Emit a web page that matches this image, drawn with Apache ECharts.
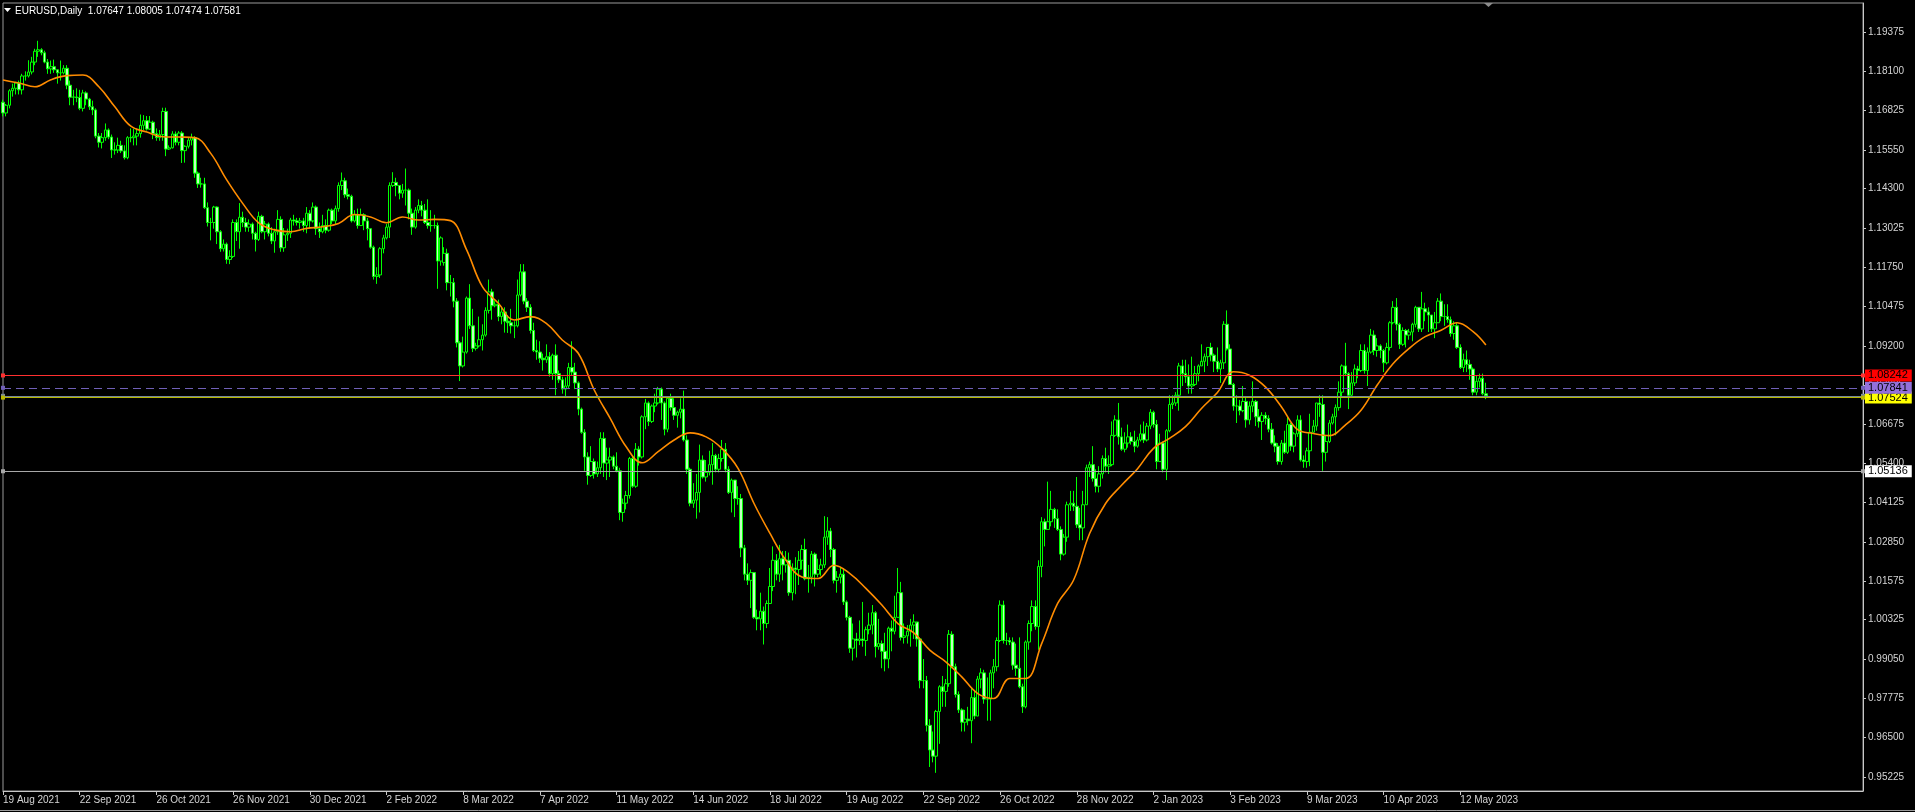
<!DOCTYPE html>
<html>
<head>
<meta charset="utf-8">
<title>EURUSD,Daily</title>
<script src="https://cdn.jsdelivr.net/npm/echarts@6/dist/echarts.min.js"></script>
<style>
  html, body { margin: 0; padding: 0; background: #000; }
  #chart { width: 1915px; height: 812px; }
</style>
</head>
<body>
<div id="chart"></div>
<script>
const symbolName = 'EURUSD,Daily';
const lastQuote = [1.07647, 1.08005, 1.07474, 1.07581];

// bottom scale labels, one every 24 bars
const dateLabels = ['19 Aug 2021', '22 Sep 2021', '26 Oct 2021', '26 Nov 2021', '30 Dec 2021', '2 Feb 2022',
  '8 Mar 2022', '7 Apr 2022', '11 May 2022', '14 Jun 2022', '18 Jul 2022', '19 Aug 2022', '22 Sep 2022',
  '26 Oct 2022', '28 Nov 2022', '2 Jan 2023', '3 Feb 2023', '9 Mar 2023', '10 Apr 2023', '12 May 2023'];
const labelStep = 24;
const emptySlots = 118;

const priceTicks = [0.95225, 0.96500, 0.97775, 0.99050, 1.00325, 1.01575, 1.02850, 1.04125, 1.05400, 1.06675,
  1.07935, 1.09200, 1.10475, 1.11750, 1.13025, 1.14300, 1.15550, 1.16825, 1.18100, 1.19375];

// daily bars: [open, close, low, high]
const bars = [
  [1.1710,1.1675,1.1664,1.1718],[1.1675,1.1700,1.1664,1.1704],[1.1700,1.1747,1.1690,1.1752],[1.1747,1.1755,1.1728,1.1770],[1.1755,1.1772,1.1735,1.1776],
  [1.1772,1.1750,1.1735,1.1780],[1.1750,1.1795,1.1735,1.1802],[1.1795,1.1795,1.1780,1.1810],[1.1795,1.1808,1.1790,1.1846],[1.1808,1.1840,1.1800,1.1857],
  [1.1840,1.1875,1.1830,1.1883],[1.1875,1.1880,1.1857,1.1909],[1.1880,1.1870,1.1862,1.1885],[1.1870,1.1840,1.1836,1.1877],[1.1840,1.1818,1.1802,1.1850],
  [1.1818,1.1825,1.1802,1.1845],[1.1825,1.1815,1.1805,1.1848],[1.1815,1.1805,1.1770,1.1815],[1.1805,1.1805,1.1780,1.1845],[1.1805,1.1820,1.1800,1.1830],
  [1.1820,1.1765,1.1752,1.1830],[1.1765,1.1726,1.1700,1.1780],[1.1726,1.1727,1.1700,1.1750],[1.1727,1.1725,1.1710,1.1755],[1.1725,1.1690,1.1684,1.1750],
  [1.1690,1.1740,1.1680,1.1750],[1.1740,1.1720,1.1700,1.1745],[1.1720,1.1695,1.1685,1.1724],[1.1695,1.1685,1.1668,1.1715],[1.1685,1.1600,1.1593,1.1690],
  [1.1600,1.1580,1.1563,1.1610],[1.1580,1.1595,1.1560,1.1610],[1.1595,1.1620,1.1585,1.1641],[1.1620,1.1597,1.1590,1.1625],[1.1597,1.1555,1.1529,1.1605],
  [1.1555,1.1555,1.1540,1.1580],[1.1555,1.1570,1.1545,1.1595],[1.1570,1.1552,1.1545,1.1585],[1.1552,1.1530,1.1524,1.1570],[1.1530,1.1595,1.1525,1.1600],
  [1.1595,1.1595,1.1580,1.1625],[1.1595,1.1600,1.1570,1.1624],[1.1600,1.1608,1.1570,1.1625],[1.1608,1.1635,1.1595,1.1670],[1.1635,1.1650,1.1620,1.1668],
  [1.1650,1.1623,1.1618,1.1665],[1.1623,1.1645,1.1620,1.1665],[1.1645,1.1608,1.1590,1.1650],[1.1608,1.1595,1.1585,1.1625],[1.1595,1.1605,1.1585,1.1620],
  [1.1605,1.1680,1.1585,1.1692],[1.1680,1.1558,1.1535,1.1692],[1.1558,1.1562,1.1555,1.1570],[1.1562,1.1607,1.1560,1.1616],[1.1607,1.1580,1.1570,1.1615],
  [1.1580,1.1610,1.1570,1.1616],[1.1610,1.1553,1.1513,1.1616],[1.1553,1.1567,1.1514,1.1570],[1.1567,1.1587,1.1560,1.1595],[1.1587,1.1595,1.1570,1.1608],
  [1.1595,1.1480,1.1465,1.1600],[1.1480,1.1445,1.1432,1.1485],[1.1445,1.1445,1.1433,1.1465],[1.1445,1.1368,1.1364,1.1465],[1.1368,1.1320,1.1307,1.1385],
  [1.1320,1.1320,1.1262,1.1335],[1.1320,1.1370,1.1300,1.1374],[1.1370,1.1290,1.1250,1.1372],[1.1290,1.1235,1.1225,1.1295],[1.1235,1.1250,1.1226,1.1265],
  [1.1250,1.1200,1.1186,1.1255],[1.1200,1.1210,1.1185,1.1230],[1.1210,1.1320,1.1205,1.1330],[1.1320,1.1290,1.1260,1.1330],[1.1290,1.1337,1.1235,1.1383],
  [1.1337,1.1320,1.1305,1.1355],[1.1320,1.1305,1.1290,1.1335],[1.1305,1.1315,1.1290,1.1330],[1.1315,1.1285,1.1265,1.1320],[1.1285,1.1265,1.1226,1.1290],
  [1.1265,1.1340,1.1260,1.1355],[1.1340,1.1290,1.1285,1.1345],[1.1290,1.1315,1.1265,1.1325],[1.1315,1.1285,1.1275,1.1320],[1.1285,1.1260,1.1250,1.1305],
  [1.1260,1.1290,1.1222,1.1300],[1.1290,1.1330,1.1280,1.1360],[1.1330,1.1238,1.1225,1.1340],[1.1238,1.1280,1.1225,1.1302],[1.1280,1.1285,1.1260,1.1300],
  [1.1285,1.1328,1.1270,1.1335],[1.1328,1.1325,1.1310,1.1345],[1.1325,1.1320,1.1310,1.1335],[1.1320,1.1325,1.1300,1.1335],[1.1325,1.1310,1.1290,1.1335],
  [1.1310,1.1350,1.1285,1.1370],[1.1350,1.1325,1.1300,1.1360],[1.1325,1.1370,1.1320,1.1385],[1.1370,1.1300,1.1280,1.1375],[1.1300,1.1290,1.1270,1.1320],
  [1.1290,1.1310,1.1285,1.1345],[1.1310,1.1295,1.1285,1.1330],[1.1295,1.1360,1.1290,1.1365],[1.1360,1.1325,1.1315,1.1365],[1.1325,1.1365,1.1315,1.1375],
  [1.1365,1.1440,1.1355,1.1450],[1.1440,1.1455,1.1425,1.1482],[1.1455,1.1410,1.1400,1.1465],[1.1410,1.1405,1.1395,1.1430],[1.1405,1.1325,1.1320,1.1410],
  [1.1325,1.1345,1.1320,1.1360],[1.1345,1.1310,1.1300,1.1365],[1.1310,1.1345,1.1310,1.1365],[1.1345,1.1325,1.1295,1.1350],[1.1325,1.1300,1.1262,1.1335],
  [1.1300,1.1240,1.1235,1.1300],[1.1240,1.1145,1.1135,1.1245],[1.1145,1.1150,1.1121,1.1175],[1.1150,1.1235,1.1140,1.1240],[1.1235,1.1270,1.1220,1.1280],
  [1.1270,1.1305,1.1265,1.1315],[1.1305,1.1440,1.1270,1.1450],[1.1440,1.1450,1.1435,1.1483],[1.1450,1.1440,1.1405,1.1465],[1.1440,1.1415,1.1395,1.1440],
  [1.1415,1.1425,1.1400,1.1445],[1.1425,1.1425,1.1375,1.1495],[1.1425,1.1350,1.1330,1.1430],[1.1350,1.1305,1.1280,1.1365],[1.1305,1.1360,1.1300,1.1370],
  [1.1360,1.1375,1.1350,1.1395],[1.1375,1.1360,1.1340,1.1390],[1.1360,1.1320,1.1315,1.1380],[1.1320,1.1310,1.1300,1.1395],[1.1310,1.1310,1.1290,1.1360],
  [1.1310,1.1310,1.1300,1.1345],[1.1310,1.1195,1.1105,1.1320],[1.1195,1.1270,1.1180,1.1275],[1.1190,1.1220,1.1180,1.1240],[1.1220,1.1125,1.1100,1.1235],
  [1.1125,1.1125,1.1080,1.1150],[1.1125,1.1065,1.1045,1.1140],[1.1065,1.0930,1.0915,1.1075],[1.0930,1.0855,1.0806,1.0935],[1.0855,1.0900,1.0850,1.0950],
  [1.0900,1.1075,1.0895,1.1080],[1.1075,1.0985,1.0975,1.1120],[1.0985,1.0912,1.0900,1.1040],[1.0912,1.0920,1.0905,1.0930],[1.0920,1.0940,1.0915,1.1015],
  [1.0940,1.0955,1.0905,1.0990],[1.0955,1.1035,1.0950,1.1045],[1.1035,1.1095,1.1025,1.1135],[1.1095,1.1050,1.1005,1.1105],[1.1050,1.1055,1.1045,1.1065],
  [1.1055,1.1015,1.1000,1.1070],[1.1015,1.1030,1.0990,1.1045],[1.1030,1.1000,1.0963,1.1045],[1.1000,1.0995,1.0962,1.1020],[1.0995,1.0985,1.0960,1.1040],
  [1.0985,1.0985,1.0945,1.1000],[1.0985,1.1085,1.0980,1.1135],[1.1085,1.1160,1.1080,1.1185],[1.1160,1.1065,1.1055,1.1185],[1.1065,1.1045,1.1030,1.1075],
  [1.1045,1.0970,1.0960,1.1055],[1.0970,1.0905,1.0900,1.0995],[1.0905,1.0900,1.0875,1.0940],[1.0900,1.0880,1.0865,1.0935],[1.0880,1.0875,1.0840,1.0895],
  [1.0875,1.0885,1.0865,1.0925],[1.0885,1.0830,1.0820,1.0900],[1.0830,1.0890,1.0810,1.0895],[1.0890,1.0830,1.0760,1.0925],[1.0830,1.0810,1.0800,1.0840],
  [1.0810,1.0780,1.0765,1.0820],[1.0780,1.0790,1.0757,1.0818],[1.0790,1.0850,1.0780,1.0865],[1.0850,1.0835,1.0825,1.0935],[1.0835,1.0800,1.0780,1.0865],
  [1.0800,1.0715,1.0695,1.0805],[1.0715,1.0640,1.0635,1.0720],[1.0640,1.0560,1.0515,1.0650],[1.0560,1.0500,1.0470,1.0575],[1.0500,1.0545,1.0495,1.0595],
  [1.0545,1.0505,1.0490,1.0555],[1.0505,1.0525,1.0495,1.0545],[1.0525,1.0620,1.0505,1.0640],[1.0620,1.0540,1.0495,1.0640],[1.0540,1.0550,1.0485,1.0590],
  [1.0550,1.0560,1.0495,1.0590],[1.0560,1.0530,1.0520,1.0565],[1.0530,1.0515,1.0510,1.0575],[1.0515,1.0380,1.0355,1.0525],[1.0380,1.0410,1.0350,1.0425],
  [1.0410,1.0435,1.0390,1.0450],[1.0435,1.0555,1.0425,1.0560],[1.0555,1.0465,1.0460,1.0565],[1.0465,1.0585,1.0460,1.0605],[1.0585,1.0560,1.0532,1.0595],
  [1.0560,1.0690,1.0555,1.0695],[1.0690,1.0735,1.0650,1.0748],[1.0735,1.0675,1.0660,1.0740],[1.0675,1.0725,1.0670,1.0730],[1.0725,1.0735,1.0705,1.0765],
  [1.0735,1.0780,1.0730,1.0787],[1.0780,1.0735,1.0680,1.0785],[1.0735,1.0650,1.0630,1.0740],[1.0650,1.0750,1.0640,1.0750],[1.0750,1.0720,1.0710,1.0765],
  [1.0720,1.0695,1.0680,1.0750],[1.0695,1.0705,1.0655,1.0710],[1.0705,1.0715,1.0685,1.0750],[1.0715,1.0615,1.0610,1.0775],[1.0615,1.0520,1.0505,1.0630],
  [1.0520,1.0410,1.0400,1.0525],[1.0410,1.0420,1.0395,1.0475],[1.0420,1.0445,1.0360,1.0505],[1.0445,1.0550,1.0380,1.0600],[1.0550,1.0495,1.0490,1.0565],
  [1.0495,1.0510,1.0480,1.0550],[1.0510,1.0535,1.0500,1.0580],[1.0535,1.0565,1.0470,1.0605],[1.0565,1.0520,1.0510,1.0570],[1.0520,1.0555,1.0510,1.0570],
  [1.0555,1.0585,1.0545,1.0615],[1.0585,1.0520,1.0510,1.0605],[1.0520,1.0445,1.0440,1.0530],[1.0445,1.0485,1.0380,1.0490],[1.0485,1.0425,1.0365,1.0485],
  [1.0425,1.0425,1.0405,1.0465],[1.0425,1.0265,1.0235,1.0440],[1.0265,1.0180,1.0160,1.0275],[1.0180,1.0160,1.0145,1.0215],[1.0160,1.0185,1.0070,1.0195],
  [1.0185,1.0040,1.0035,1.0185],[1.0040,1.0035,0.9998,1.0065],[1.0035,1.0060,0.9998,1.0120],[1.0060,1.0020,0.9952,1.0075],[1.0020,1.0085,1.0005,1.0095],
  [1.0085,1.0140,1.0085,1.0200],[1.0140,1.0225,1.0125,1.0270],[1.0225,1.0180,1.0160,1.0245],[1.0180,1.0230,1.0155,1.0275],[1.0230,1.0210,1.0160,1.0255],
  [1.0210,1.0225,1.0185,1.0255],[1.0225,1.0120,1.0110,1.0250],[1.0120,1.0200,1.0095,1.0215],[1.0200,1.0195,1.0115,1.0235],[1.0195,1.0225,1.0145,1.0255],
  [1.0225,1.0260,1.0195,1.0275],[1.0260,1.0165,1.0160,1.0295],[1.0165,1.0170,1.0120,1.0210],[1.0170,1.0245,1.0150,1.0255],[1.0245,1.0180,1.0140,1.0250],
  [1.0180,1.0195,1.0170,1.0230],[1.0195,1.0210,1.0175,1.0230],[1.0210,1.0300,1.0200,1.0368],[1.0300,1.0320,1.0275,1.0365],[1.0320,1.0260,1.0235,1.0330],
  [1.0260,1.0160,1.0150,1.0265],[1.0160,1.0170,1.0120,1.0190],[1.0170,1.0180,1.0150,1.0200],[1.0180,1.0090,1.0080,1.0200],[1.0090,1.0040,1.0030,1.0095],
  [1.0040,0.9940,0.9925,1.0045],[0.9940,0.9970,0.9900,1.0020],[0.9970,0.9965,0.9910,0.9990],[0.9965,0.9970,0.9950,1.0030],[0.9970,0.9965,0.9945,1.0090],
  [0.9965,1.0000,0.9915,1.0010],[1.0000,1.0015,0.9985,1.0055],[1.0015,1.0055,0.9985,1.0080],[1.0055,0.9945,0.9910,1.0060],[0.9945,0.9955,0.9935,1.0035],
  [0.9955,0.9930,0.9875,0.9965],[0.9930,0.9905,0.9865,0.9990],[0.9905,1.0005,0.9875,1.0010],[1.0005,0.9995,0.9930,1.0030],[0.9995,1.0040,0.9985,1.0110],
  [1.0040,1.0120,1.0040,1.0200],[1.0120,0.9975,0.9965,1.0155],[0.9975,0.9980,0.9955,1.0020],[0.9980,0.9995,0.9955,1.0015],[0.9995,1.0015,0.9945,1.0035],
  [1.0015,1.0025,0.9970,1.0050],[1.0025,0.9970,0.9945,1.0020],[0.9970,0.9835,0.9810,0.9975],[0.9835,0.9835,0.9810,0.9905],[0.9835,0.9690,0.9670,0.9850],
  [0.9690,0.9610,0.9555,0.9710],[0.9610,0.9590,0.9570,0.9670],[0.9590,0.9735,0.9536,0.9740],[0.9735,0.9815,0.9630,0.9820],[0.9815,0.9800,0.9750,0.9850],
  [0.9800,0.9825,0.9750,0.9840],[0.9825,0.9985,0.9815,0.9999],[0.9985,0.9880,0.9875,0.9995],[0.9880,0.9790,0.9780,0.9890],[0.9790,0.9740,0.9730,0.9800],
  [0.9740,0.9700,0.9670,0.9745],[0.9700,0.9710,0.9670,0.9740],[0.9710,0.9705,0.9690,0.9750],[0.9705,0.9780,0.9632,0.9810],[0.9780,0.9720,0.9710,0.9805],
  [0.9720,0.9840,0.9720,0.9850],[0.9840,0.9860,0.9810,0.9875],[0.9860,0.9775,0.9760,0.9870],[0.9775,0.9775,0.9705,0.9845],[0.9775,0.9860,0.9705,0.9870],
  [0.9860,0.9880,0.9810,0.9905],[0.9880,0.9965,0.9865,0.9975],[0.9965,1.0080,0.9960,1.0095],[1.0080,0.9965,0.9955,1.0094],[0.9965,0.9965,0.9950,0.9990],
  [0.9965,0.9960,0.9950,0.9975],[0.9960,0.9885,0.9870,0.9975],[0.9885,0.9875,0.9850,0.9955],[0.9875,0.9815,0.9810,0.9975],[0.9815,0.9750,0.9730,0.9825],
  [0.9750,0.9960,0.9745,0.9965],[0.9960,1.0020,0.9935,1.0030],[1.0020,1.0075,0.9995,1.0095],[1.0075,1.0010,1.0000,1.0095],[1.0010,1.0205,0.9935,1.0225],
  [1.0205,1.0350,1.0170,1.0365],[1.0350,1.0325,1.0270,1.0360],[1.0325,1.0350,1.0325,1.0480],[1.0350,1.0390,1.0335,1.0450],[1.0390,1.0360,1.0330,1.0395],
  [1.0360,1.0325,1.0320,1.0390],[1.0325,1.0245,1.0225,1.0335],[1.0245,1.0300,1.0240,1.0310],[1.0300,1.0405,1.0285,1.0415],[1.0405,1.0410,1.0385,1.0450],
  [1.0410,1.0400,1.0385,1.0450],[1.0400,1.0340,1.0330,1.0495],[1.0340,1.0330,1.0290,1.0395],[1.0330,1.0405,1.0290,1.0450],[1.0405,1.0525,1.0405,1.0535],
  [1.0525,1.0535,1.0495,1.0545],[1.0535,1.0490,1.0480,1.0595],[1.0490,1.0465,1.0445,1.0520],[1.0465,1.0505,1.0445,1.0530],[1.0505,1.0555,1.0490,1.0565],
  [1.0555,1.0530,1.0510,1.0590],[1.0530,1.0535,1.0505,1.0565],[1.0535,1.0630,1.0530,1.0675],[1.0630,1.0680,1.0625,1.0695],[1.0680,1.0625,1.0600,1.0735],
  [1.0625,1.0585,1.0580,1.0655],[1.0585,1.0605,1.0575,1.0640],[1.0605,1.0625,1.0590,1.0665],[1.0625,1.0610,1.0600,1.0640],[1.0610,1.0595,1.0575,1.0645],
  [1.0595,1.0615,1.0590,1.0625],[1.0615,1.0635,1.0610,1.0665],[1.0635,1.0615,1.0605,1.0675],[1.0615,1.0660,1.0610,1.0670],[1.0660,1.0705,1.0650,1.0715],
  [1.0705,1.0665,1.0655,1.0710],[1.0665,1.0545,1.0520,1.0680],[1.0545,1.0605,1.0545,1.0635],[1.0605,1.0520,1.0510,1.0610],[1.0520,1.0645,1.0485,1.0650],
  [1.0645,1.0730,1.0640,1.0760],[1.0730,1.0735,1.0715,1.0760],[1.0735,1.0760,1.0725,1.0770],[1.0760,1.0855,1.0710,1.0865],[1.0855,1.0830,1.0790,1.0875],
  [1.0830,1.0820,1.0800,1.0875],[1.0820,1.0790,1.0765,1.0860],[1.0790,1.0795,1.0765,1.0885],[1.0795,1.0830,1.0790,1.0855],[1.0830,1.0855,1.0805,1.0860],
  [1.0855,1.0870,1.0855,1.0925],[1.0870,1.0885,1.0835,1.0895],[1.0885,1.0915,1.0855,1.0915],[1.0915,1.0890,1.0870,1.0930],[1.0890,1.0870,1.0835,1.0895],
  [1.0870,1.0845,1.0835,1.0915],[1.0845,1.0865,1.0800,1.0875],[1.0865,1.0990,1.0845,1.1000],[1.0990,1.0910,1.0905,1.1035],[1.0910,1.0795,1.0795,1.0925],
  [1.0795,1.0725,1.0710,1.0800],[1.0725,1.0725,1.0670,1.0760],[1.0725,1.0710,1.0695,1.0745],[1.0710,1.0740,1.0705,1.0790],[1.0740,1.0680,1.0655,1.0755],
  [1.0680,1.0725,1.0665,1.0740],[1.0725,1.0740,1.0705,1.0805],[1.0740,1.0690,1.0660,1.0745],[1.0690,1.0675,1.0655,1.0715],[1.0675,1.0695,1.0615,1.0705],
  [1.0695,1.0685,1.0665,1.0705],[1.0685,1.0650,1.0640,1.0695],[1.0650,1.0605,1.0600,1.0670],[1.0605,1.0595,1.0575,1.0630],[1.0595,1.0545,1.0535,1.0605],
  [1.0545,1.0605,1.0535,1.0615],[1.0605,1.0575,1.0570,1.0645],[1.0575,1.0665,1.0570,1.0690],[1.0665,1.0595,1.0580,1.0670],[1.0595,1.0635,1.0575,1.0640],
  [1.0635,1.0680,1.0625,1.0695],[1.0680,1.0550,1.0545,1.0695],[1.0550,1.0545,1.0525,1.0565],[1.0545,1.0580,1.0525,1.0590],[1.0580,1.0640,1.0530,1.0700],
  [1.0640,1.0660,1.0640,1.0680],[1.0660,1.0735,1.0645,1.0735],[1.0735,1.0730,1.0690,1.0760],[1.0730,1.0575,1.0515,1.0760],[1.0575,1.0610,1.0545,1.0630],
  [1.0610,1.0670,1.0605,1.0680],[1.0670,1.0690,1.0665,1.0700],[1.0690,1.0720,1.0630,1.0730],[1.0720,1.0770,1.0710,1.0805],[1.0770,1.0855,1.0755,1.0860],
  [1.0855,1.0830,1.0825,1.0930],[1.0830,1.0760,1.0715,1.0835],[1.0760,1.0800,1.0755,1.0835],[1.0800,1.0845,1.0790,1.0860],[1.0845,1.0840,1.0815,1.0855],
  [1.0840,1.0905,1.0835,1.0925],[1.0905,1.0840,1.0830,1.0925],[1.0840,1.0900,1.0790,1.0915],[1.0900,1.0955,1.0895,1.0975],[1.0955,1.0905,1.0890,1.0970],
  [1.0905,1.0920,1.0885,1.0945],[1.0920,1.0905,1.0880,1.0925],[1.0905,1.0865,1.0835,1.0910],[1.0865,1.0915,1.0860,1.0930],[1.0915,1.0995,1.0905,1.1000],
  [1.0995,1.1045,1.0990,1.1065],[1.1045,1.0990,1.0970,1.1075],[1.0990,1.0925,1.0910,1.0995],[1.0925,1.0970,1.0920,1.0980],[1.0970,1.0955,1.0915,1.0975],
  [1.0955,1.0965,1.0940,1.0975],[1.0965,1.0990,1.0935,1.0995],[1.0990,1.1045,1.0980,1.1050],[1.1045,1.0975,1.0965,1.1045],[1.0975,1.1040,1.0965,1.1095],
  [1.1040,1.1030,1.1000,1.1060],[1.1030,1.1020,1.0965,1.1045],[1.1020,1.0975,1.0965,1.1020],[1.0975,1.0995,1.0945,1.1030],[1.0995,1.1065,1.0995,1.1075],
  [1.1065,1.1015,1.1000,1.1090],[1.1015,1.1015,1.0985,1.1055],[1.1015,1.1005,1.0995,1.1055],[1.1005,1.0960,1.0950,1.1015],[1.0960,1.0985,1.0940,1.1000],
  [1.0985,1.0915,1.0910,1.0995],[1.0915,1.0850,1.0845,1.0925],[1.0850,1.0875,1.0835,1.0895],[1.0875,1.0860,1.0835,1.0905],[1.0860,1.0845,1.0810,1.0875],
  [1.0845,1.0770,1.0760,1.0850],[1.0770,1.0805,1.0760,1.0825],[1.0805,1.0815,1.0785,1.0830],[1.0815,1.0765,1.0760,1.0830],[1.07647,1.07581,1.07474,1.08005]
];

// moving average, one value every 5 bars (last one at the last bar)
const maStep = 5;
const maValues = [
  1.1782, 1.1772, 1.1760, 1.1783, 1.1796, 1.1798, 1.1760, 1.1695, 1.1632, 1.1613,
  1.1598, 1.1597, 1.1595, 1.1544, 1.1458, 1.1382, 1.1319, 1.1296, 1.1290, 1.1301,
  1.1306, 1.1317, 1.1346, 1.1338, 1.1319, 1.1338, 1.1328, 1.1330, 1.1326, 1.1233,
  1.1112, 1.1058, 1.1004, 1.1015, 1.0993, 1.0939, 1.0896, 1.0777, 1.0685, 1.0593,
  1.0541, 1.0577, 1.0615, 1.0638, 1.0625, 1.0587, 1.0523, 1.0409, 1.0312, 1.0225,
  1.0171, 1.0166, 1.0209, 1.0182, 1.0134, 1.0080, 1.0020, 0.9990, 0.9934, 0.9896,
  0.9847, 0.9793, 0.9777, 0.9842, 0.9842, 0.9955, 1.0085, 1.0161, 1.0312, 1.0409,
  1.0468, 1.0522, 1.0588, 1.0620, 1.0658, 1.0717, 1.0769, 1.0836, 1.0825, 1.0787,
  1.0723, 1.0649, 1.0636, 1.0629, 1.0663, 1.0712, 1.0793, 1.0863, 1.0912, 1.0950,
  1.0971, 1.0995, 1.0966, 1.0923
];

const redLevel = 1.08242;
const purpleLevel = 1.07841;
const bidLevel = 1.07581;
const yellowLevel = 1.07524;
const whiteLevel = 1.05136;

const FONT = '"Liberation Sans", Arial, sans-serif';
const lastBar = bars.length - 1;
const categories = Array.from({ length: bars.length + emptySlots }, (_, i) => String(i));
const maData = maValues.map((v, i) => [Math.min(i * maStep, lastBar), v]);
const showLabel = idx => idx % labelStep === 0 && idx / labelStep < dateLabels.length;

function level (value, color, bg, type, withLabel) {
  return {
    yAxis: value,
    lineStyle: { color: color, width: 1, type: type },
    label: withLabel ? {
      show: true,
      position: 'end',
      distance: 2,
      formatter: p => Number(p.value).toFixed(5),
      color: '#000000',
      backgroundColor: bg,
      padding: [1, 4, 0, 3],
      fontFamily: FONT,
      fontSize: 11
    } : { show: false }
  };
}

const chart = echarts.init(document.getElementById('chart'));
chart.setOption({
  backgroundColor: '#000000',
  animation: false,
  grid: {
    left: 0, right: 52, top: 3, bottom: 21,
    show: true, borderColor: '#9a9a9a', borderWidth: 1
  },
  xAxis: {
    type: 'category',
    data: categories,
    boundaryGap: false,
    axisLine: { onZero: false, lineStyle: { color: '#c8c8c8' } },
    axisTick: { interval: showLabel, length: 4, lineStyle: { color: '#c8c8c8' } },
    axisLabel: {
      interval: showLabel,
      formatter: (v, i) => (showLabel(i) ? dateLabels[i / labelStep] : ''),
      align: 'left',
      margin: 4,
      color: '#d4d4d4',
      fontFamily: FONT,
      fontSize: 10
    },
    splitLine: { show: false }
  },
  yAxis: {
    type: 'value',
    position: 'right',
    min: 0.94771,
    max: 1.20315,
    axisLine: { show: true, lineStyle: { color: '#c8c8c8' } },
    axisTick: { show: true, customValues: priceTicks, length: 3, lineStyle: { color: '#c8c8c8' } },
    axisLabel: {
      customValues: priceTicks,
      formatter: v => v.toFixed(5),
      margin: 5,
      color: '#d4d4d4',
      fontFamily: FONT,
      fontSize: 10
    },
    splitLine: { show: false }
  },
  graphic: [
    { type: 'polygon', shape: { points: [[4, 8], [11, 8], [7.5, 12]] }, style: { fill: '#ffffff' } },
    {
      type: 'text', left: 15, top: 6,
      style: {
        text: symbolName + '  ' + lastQuote.map(v => v.toFixed(5)).join(' '),
        fill: '#ffffff', font: '10px ' + FONT
      }
    },
    { type: 'polygon', shape: { points: [[1484, 3], [1493, 3], [1488.5, 7]] }, style: { fill: '#8c8c8c' } },
    { type: 'line', shape: { x1: 0, y1: 810.5, x2: 1915, y2: 810.5 }, style: { stroke: '#9a9a9a', lineWidth: 1 } }
  ],
  series: [
    {
      type: 'candlestick',
      data: bars,
      barWidth: 3,
      itemStyle: {
        color: '#000000',
        color0: '#c0ffc0',
        borderColor: '#00ff00',
        borderColor0: '#00ff00',
        borderWidth: 1
      },
      markLine: {
        silent: true,
        animation: false,
        precision: 5,
        symbol: ['rect', 'rect'],
        symbolSize: 4,
        data: [
          level(whiteLevel, '#a8a8a8', '#ffffff', 'solid', true),
          level(bidLevel, '#778899', null, 'solid', false),
          level(yellowLevel, '#b8b800', '#ffff00', 'solid', true),
          level(purpleLevel, '#7060b8', '#9370db', [8, 5], true),
          level(redLevel, '#ff3030', '#ff0000', 'solid', true)
        ]
      }
    },
    {
      type: 'line',
      data: maData,
      smooth: 0.4,
      showSymbol: false,
      silent: true,
      lineStyle: { color: '#ff8c00', width: 1.6 }
    }
  ]
});
</script>
</body>
</html>
